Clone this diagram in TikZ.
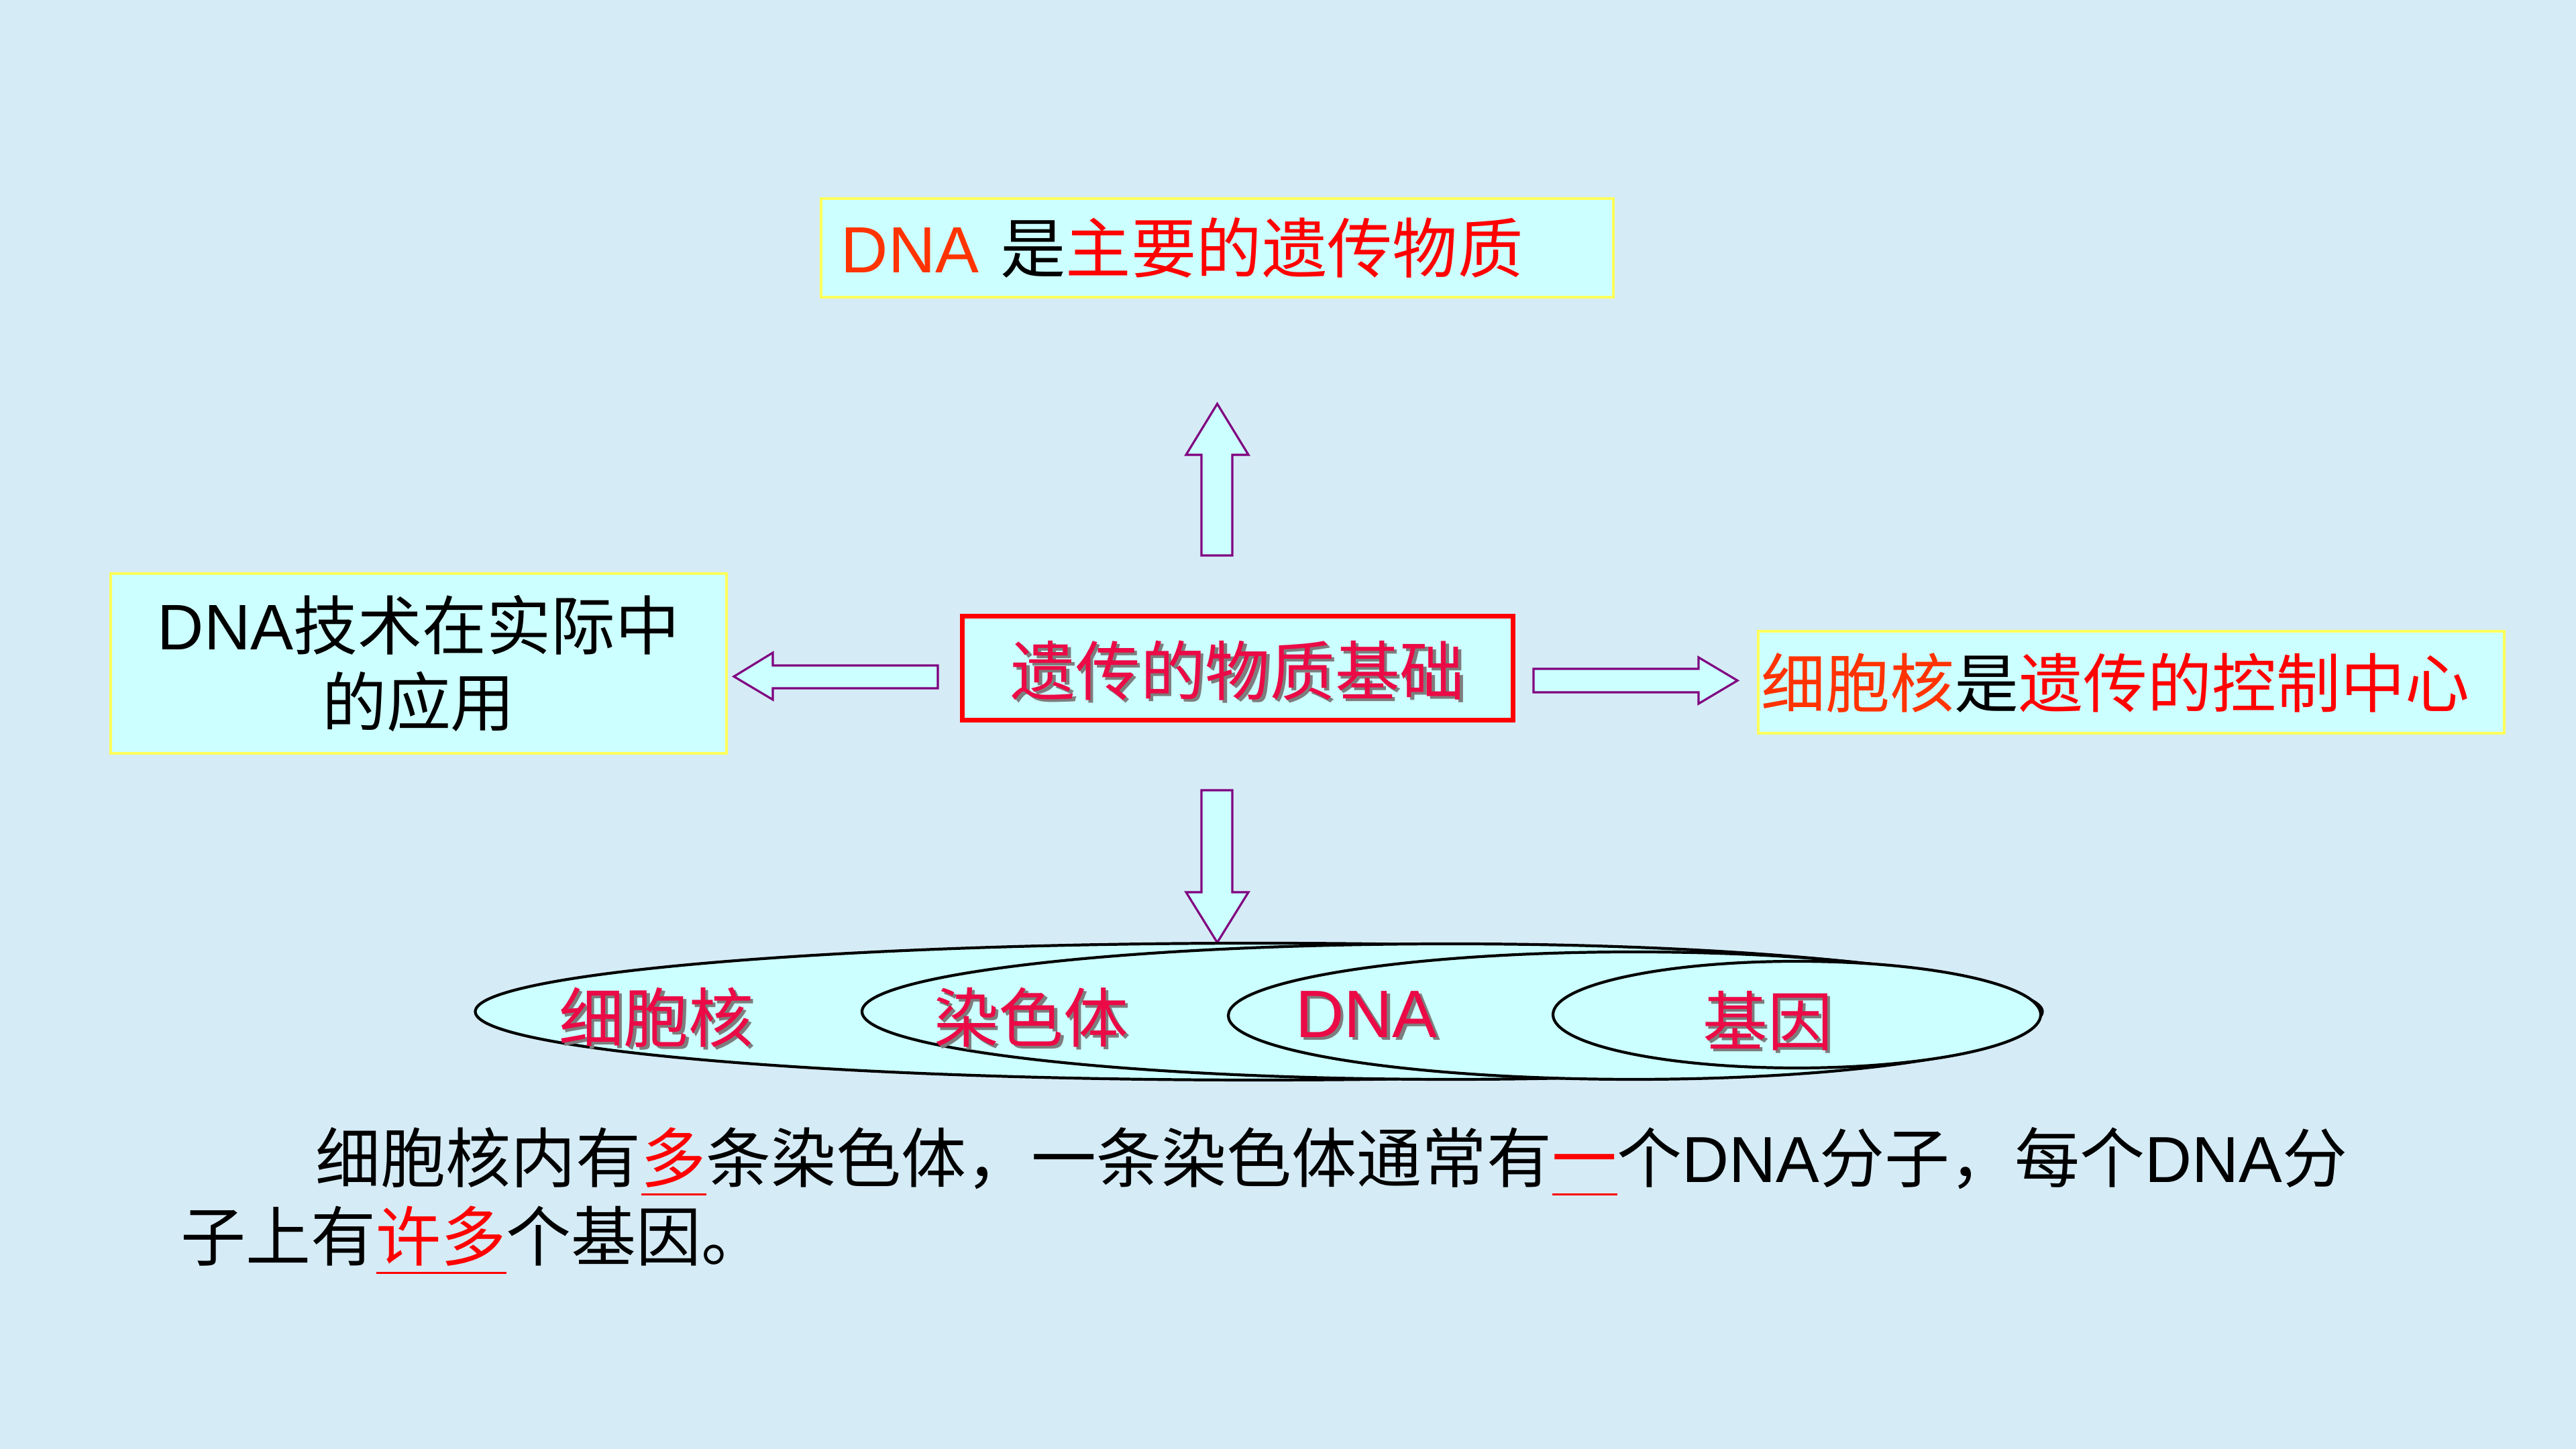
\documentclass[tikz,border=0pt]{standalone}
\usepackage{fontspec}
\setmainfont{Noto Sans CJK SC}
\newfontfamily\latinfont{Liberation Sans}
\usetikzlibrary{calc,shapes.geometric}
\definecolor{bgblue}{RGB}{213,235,245}
\definecolor{boxfill}{RGB}{204,255,255}
\definecolor{boxline}{RGB}{255,255,90}
\definecolor{arrowline}{RGB}{128,0,128}
\definecolor{orred}{RGB}{255,51,0}
\definecolor{pred}{RGB}{255,0,0}
\definecolor{crimsonred}{RGB}{235,10,70}
\definecolor{shadowgray}{RGB}{125,125,125}
\newcommand\DNAw{{\latinfont DNA}}
\newcommand\RedUL[1]{\setbox0\hbox{#1}\rlap{\color{pred}\rule[-0.2em]{\wd0}{0.04em}}{\color{pred}#1}}
\begin{document}
\begin{tikzpicture}[
  txt/.style={inner sep=0pt, font=\fontsize{27.3}{32.4}\selectfont},
  toptxt/.style={inner sep=0pt, font=\fontsize{27.7}{32.4}\selectfont},
  paratxt/.style={inner sep=0pt, font=\fontsize{27.6}{33}\selectfont},
  yellowbox/.style={draw=boxline, line width=1pt, fill=boxfill, inner sep=0pt},
  redbox/.style={draw=pred, line width=2pt, fill=boxfill, inner sep=0pt},
  blockarrow/.style={draw=arrowline, line width=0.9pt, fill=boxfill, line join=miter},
  nest/.style={draw=black, line width=1.2pt, fill=boxfill, ellipse, inner sep=0pt},
  shadowtxt/.style={inner sep=0pt, text=shadowgray, font=\fontsize{27.5}{33}\selectfont},
  crimsontxt/.style={inner sep=0pt, text=crimsonred, font=\fontsize{27.5}{33}\selectfont}
]
\fill[bgblue] (0,0) rectangle (38.4,21.6);
\useasboundingbox (0,0) rectangle (38.4,21.6);

% top box
\node[yellowbox, minimum width=11.81cm, minimum height=1.47cm] (topbox) at (18.145,17.905) {};
\node[toptxt, anchor=west] (toptext) at ($(topbox.west)+(0.31,0)$) {\textcolor{orred}{\DNAw}\hspace{0.33em}是\textcolor{pred}{主要的遗传物质}};

% center box
\node[redbox, minimum width=8.21cm, minimum height=1.55cm] (centerbox) at (18.45,11.635) {};
\node[shadowtxt] (centershadow) at ($(centerbox)+(0.045,-0.075)$) {遗传的物质基础};
\node[crimsontxt] (centertext) at ($(centerbox)+(0,-0.035)$) {遗传的物质基础};

% left box
\node[yellowbox, minimum width=9.18cm, minimum height=2.68cm] (leftbox) at (6.24,11.71) {};
\node[txt, align=center] (lefttext) at (leftbox) {\DNAw 技术在实际中\\的应用};

% right box
\node[yellowbox, minimum width=11.12cm, minimum height=1.52cm] (rightbox) at (31.77,11.43) {};
\node[txt, anchor=west] (righttext) at ($(rightbox.west)+(0.06,-0.01)$) {\textcolor{orred}{细胞核}是\textcolor{pred}{遗传的控制中心}};

% block arrows
\draw[blockarrow] (17.91,13.32) -- (17.91,14.82) -- (17.68,14.82) -- (18.145,15.58) -- (18.61,14.82) -- (18.37,14.82) -- (18.37,13.32) -- cycle;
\draw[blockarrow] (17.91,9.82) -- (17.91,8.30) -- (17.68,8.30) -- (18.145,7.55) -- (18.61,8.30) -- (18.37,8.30) -- (18.37,9.82) -- cycle;
\draw[blockarrow] (13.98,11.68) -- (11.52,11.68) -- (11.52,11.87) -- (10.94,11.515) -- (11.52,11.17) -- (11.52,11.34) -- (13.98,11.34) -- cycle;
\draw[blockarrow] (22.86,11.63) -- (25.32,11.63) -- (25.32,11.80) -- (25.90,11.455) -- (25.32,11.11) -- (25.32,11.28) -- (22.86,11.28) -- cycle;

% nested ellipses
\node[nest, minimum width=23.36cm, minimum height=2.04cm] (nucleus) at (18.765,6.52) {};
\node[nest, minimum width=17.55cm, minimum height=2.02cm] (chromosome) at (21.625,6.52) {};
\node[nest, minimum width=12.09cm, minimum height=1.90cm] (dnaell) at (24.355,6.46) {};
\node[nest, minimum width=7.27cm, minimum height=1.59cm] (geneell) at (26.785,6.475) {};

\node[shadowtxt] (s1) at (9.825,6.395) {细胞核};
\node[crimsontxt] (t1) at (9.78,6.435) {细胞核};
\node[shadowtxt] (s2) at (15.415,6.395) {染色体};
\node[crimsontxt] (t2) at (15.37,6.435) {染色体};
\node[shadowtxt, font=\fontsize{28.5}{33}\latinfont] (s3) at (20.415,6.435) {DNA};
\node[crimsontxt, font=\fontsize{28.5}{33}\latinfont] (t3) at (20.37,6.475) {DNA};
\node[shadowtxt] (s4) at (26.395,6.345) {基因};
\node[crimsontxt] (t4) at (26.35,6.385) {基因};

% paragraph
\node[paratxt, anchor=base west] (para1) at (4.70,3.97) {细胞核内有\RedUL{多}条染色体，一条染色体通常有\RedUL{一}个\DNAw 分子，每个\DNAw 分};
\node[paratxt, anchor=base west] (para2) at (2.69,2.80) {子上有\RedUL{许多}个基因。};
\end{tikzpicture}
\end{document}
